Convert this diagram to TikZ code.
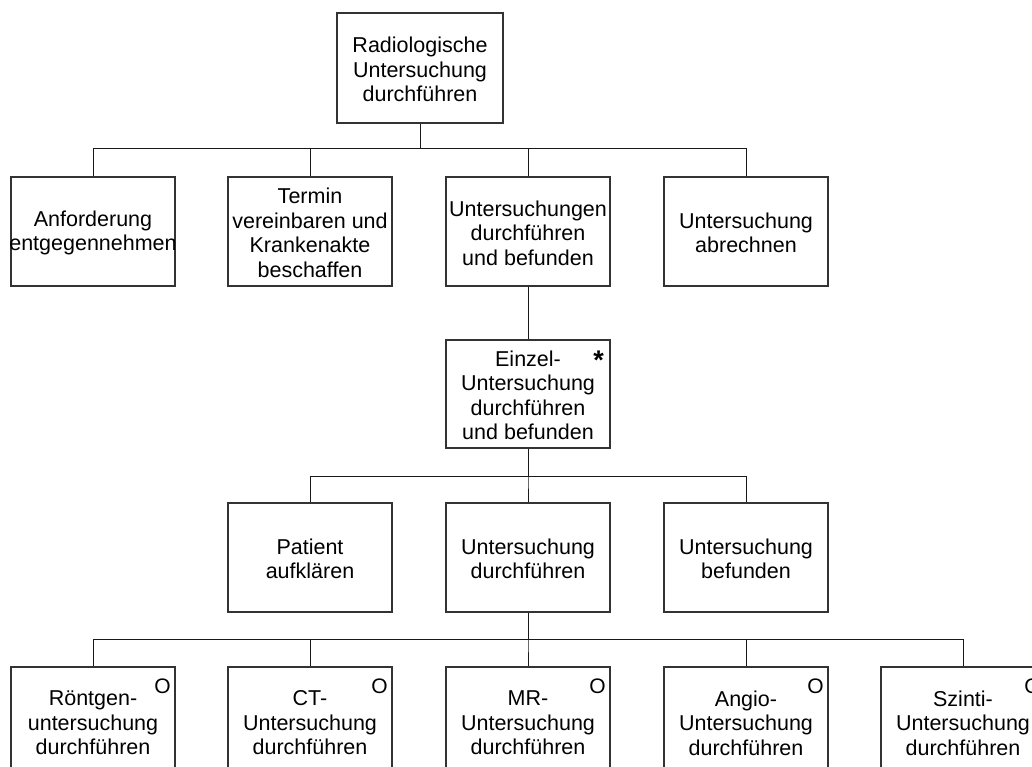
\documentclass[tikz,border=0pt]{standalone}
\usepackage{fontspec}
\setmainfont{Liberation Sans}
\usetikzlibrary{calc}
\begin{document}
\begin{tikzpicture}[x=1pt,y=-1pt,
  txt/.style={align=center,inner sep=0pt,text=black,yshift=-1.5pt,
    font=\fontsize{21.5pt}{24.5pt}\selectfont},
  box/.style={draw=black!80,line width=1.1pt,rectangle,inner sep=0pt,
    minimum width=164pt,minimum height=109pt},
  corner/.style={inner sep=0pt,text=black,font=\fontsize{21pt}{24pt}\selectfont},
  starmark/.style={inner sep=0pt,text=black,font=\fontsize{27pt}{30pt}\selectfont\bfseries},
  link/.style={draw=black!90,line width=1pt}]
\useasboundingbox (0,0) rectangle (1032,767);
\clip (0,0) rectangle (1032,767);

% root
\node[box,minimum width=166pt,minimum height=110pt,
  label={[txt]center:{Radiologische\\Untersuchung\\durchführen}}] (root) at (420,68) {};

% first level
\node[box,label={[txt]center:{Anforderung\\entgegennehmen}}] (a1) at (93,231.5) {};
\node[box,label={[txt]center:{Termin\\vereinbaren und\\Krankenakte\\beschaffen}}] (a2) at (310,231.5) {};
\node[box,label={[txt]center:{Untersuchungen\\durchführen\\und befunden}}] (a3) at (528,231.5) {};
\node[box,label={[txt]center:{Untersuchung\\abrechnen}}] (a4) at (746,231.5) {};

% repeated single examination
\node[box,minimum height=108pt,
  label={[txt]center:{Einzel-\\Untersuchung\\durchführen\\und befunden}}] (e) at (528,394) {};
\node[starmark] (estar) at ($(e.north east)+(-12,21)$) {*};

% second level
\node[box,label={[txt]center:{Patient\\aufklären}}] (b1) at (310,557.5) {};
\node[box,label={[txt]center:{Untersuchung\\durchführen}}] (b2) at (528,557.5) {};
\node[box,label={[txt]center:{Untersuchung\\befunden}}] (b3) at (746,557.5) {};

% alternative examinations
\node[box,label={[txt]center:{Röntgen-\\untersuchung\\durchführen}}] (c1) at (93,721.5) {};
\node[box,label={[txt]center:{CT-\\Untersuchung\\durchführen}}] (c2) at (310,721.5) {};
\node[box,label={[txt]center:{MR-\\Untersuchung\\durchführen}}] (c3) at (528,721.5) {};
\node[box,label={[txt]center:{Angio-\\Untersuchung\\durchführen}}] (c4) at (746,721.5) {};
\node[box,label={[txt]center:{Szinti-\\Untersuchung\\durchführen}}] (c5) at (963,721.5) {};
\foreach \c in {c1,c2,c3,c4,c5}
  \node[corner] (\c o) at ($(\c.north east)+(-13,20)$) {O};

% connector buses
\coordinate (bus1) at (0,149);
\coordinate (bus2) at (0,476);
\coordinate (bus3) at (0,639);

\foreach \k in {a1,a2,a3,a4}
  \draw[link] (root.south) -- (root.south |- bus1) -| (\k.north);
\draw[link] (a3.south) -- (e.north);
\foreach \k in {b1,b2,b3}
  \draw[link] (e.south) -- (e.south |- bus2) -| (\k.north);
\foreach \k in {c1,c2,c3,c4,c5}
  \draw[link] (b2.south) -- (b2.south |- bus3) -| (\k.north);
\end{tikzpicture}
\end{document}
